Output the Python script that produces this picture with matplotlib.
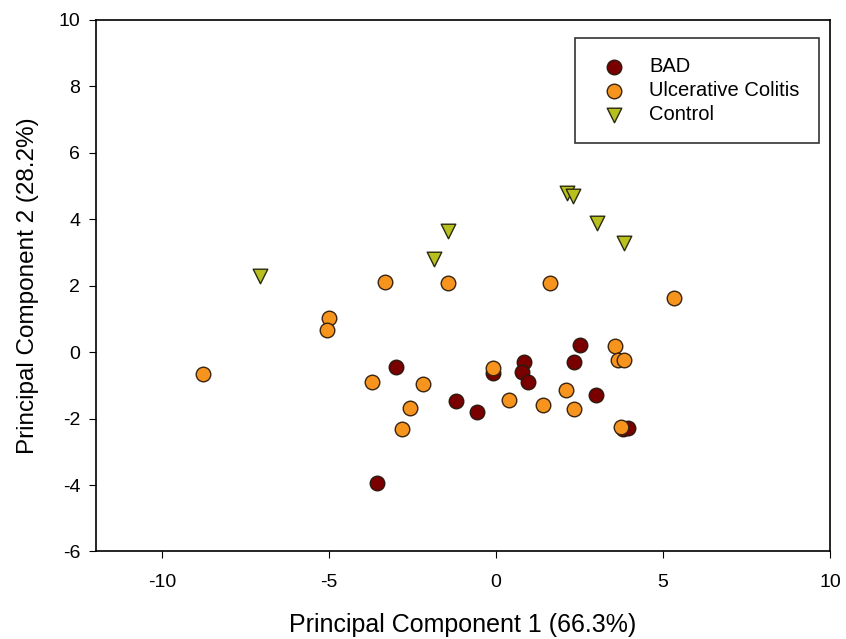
import matplotlib
matplotlib.use("Agg")
import matplotlib.pyplot as plt

plt.rcParams['font.family'] = ['Liberation Sans', 'DejaVu Sans']
plt.rcParams['axes.unicode_minus'] = False

# BAD
bad_x = [-3.56, -3.01, -1.19, -0.58, -0.08, 0.84, 0.77, 0.96, 2.33, 2.51, 2.98, 3.80, 3.94]
bad_y = [-3.93, -0.45, -1.48, -1.80, -0.64, -0.29, -0.59, -0.91, -0.29, 0.21, -1.28, -2.30, -2.29]

# Ulcerative Colitis
uc_x = [-8.77, -5.02, -5.06, -3.32, -1.43, 1.60, 5.32, -3.73, -2.19, -2.57, -2.83,
        -0.08, 0.39, 1.39, 2.10, 2.33, 3.57, 3.65, 3.84, 3.75]
uc_y = [-0.67, 1.02, 0.67, 2.12, 2.09, 2.08, 1.62, -0.91, -0.95, -1.68, -2.31,
        -0.47, -1.44, -1.58, -1.15, -1.71, 0.19, -0.24, -0.24, -2.26]

# Control
ctl_x = [-7.07, -1.85, -1.45, 2.11, 2.31, 3.01, 3.82]
ctl_y = [2.30, 2.80, 3.63, 4.80, 4.70, 3.89, 3.28]

fig = plt.figure(figsize=(8.46, 6.39), dpi=100)
ax = fig.add_axes([0.113, 0.137, 0.868, 0.832])

ax.scatter(bad_x, bad_y, s=110, marker='o', facecolor='#7a0000', edgecolor='#2a1a10',
           linewidth=1.0, label='BAD', zorder=3)
ax.scatter(uc_x, uc_y, s=110, marker='o', facecolor='#f7941d', edgecolor='#3a2410',
           linewidth=1.0, label='Ulcerative Colitis', zorder=3)
ax.scatter(ctl_x, ctl_y, s=110, marker='v', facecolor='#b8c020', edgecolor='#2a2a10',
           linewidth=1.0, label='Control', zorder=3)

ax.set_xlim(-12, 10)
ax.set_ylim(-6, 10)
ax.set_xticks([-10, -5, 0, 5, 10])
ax.set_yticks([-6, -4, -2, 0, 2, 4, 6, 8, 10])
ax.tick_params(axis='both', direction='out', length=5, labelsize=14, top=False, right=False)
ax.tick_params(axis='x', pad=11)
ax.tick_params(axis='y', pad=6)
for sp in ax.spines.values():
    sp.set_linewidth(1.2)

ax.set_xlabel('Principal Component 1 (66.3%)', fontsize=18, labelpad=16)
ax.set_ylabel('Principal Component 2 (28.2%)', fontsize=17.5, labelpad=14)

leg = ax.legend(loc='upper right', bbox_to_anchor=(0.985, 0.966), borderaxespad=0,
                fontsize=14.5, frameon=True, fancybox=False, edgecolor='black',
                borderpad=0.95, handletextpad=0.75, labelspacing=0.25, handlelength=2.0)
leg.get_frame().set_linewidth(1.2)

fig.savefig('out.png', dpi=100)
